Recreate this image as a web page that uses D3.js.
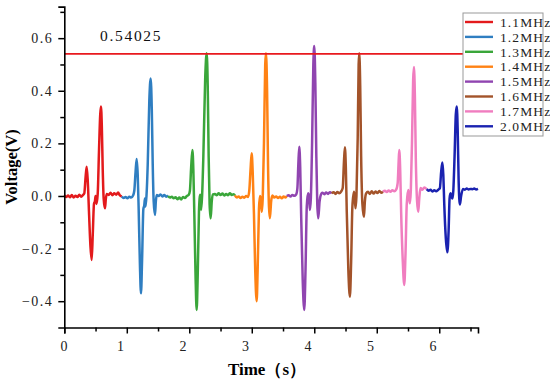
<!DOCTYPE html>
<html>
<head>
<meta charset="utf-8">
<script src="https://cdn.jsdelivr.net/npm/d3@7"></script>
<style>
  body { margin: 0; background: #fff; }
  text { font-family: "Liberation Serif", "Times New Roman", serif; }
</style>
</head>
<body>
<svg width="550" height="382"></svg>
<script>
// frequencies and colours, one trace each
let freqs = ["1.1MHz", "1.2MHz", "1.3MHz", "1.4MHz", "1.5MHz", "1.6MHz", "1.7MHz", "2.0MHz"];
let colors = ["#e31a1c", "#2f7ec1", "#3aa63a", "#ff8214", "#9045b0", "#a3532a", "#f07dbf", "#1a22b0"];

// [time (s), voltage (V)]
let red = [[0.00,0.003],[0.03,-0.004],[0.06,0.002],[0.09,-0.005],[0.12,0.004],[0.15,-0.006],[0.18,0.001],[0.21,-0.004],[0.24,0.005],[0.27,-0.003],[0.30,0.004],[0.32,0.01],[0.34,0.07],[0.358,0.111],[0.375,0.06],[0.395,-0.06],[0.418,-0.19],[0.438,-0.243],[0.455,-0.15],[0.475,-0.03],[0.49,-0.02],[0.50,0.0],[0.515,-0.03],[0.535,0.01],[0.555,0.17],[0.575,0.31],[0.587,0.34],[0.60,0.27],[0.615,0.1],[0.63,-0.01],[0.651,-0.047],[0.665,-0.01],[0.68,0.008],[0.71,0.004],[0.74,0.012],[0.77,0.003],[0.80,0.01],[0.83,0.005],[0.86,0.013],[0.89,0.002],[0.92,-0.002]];
let blue = [[0.92,-0.002],[0.95,-0.008],[0.98,-0.004],[1.01,-0.009],[1.04,-0.003],[1.07,-0.006],[1.10,0.002],[1.12,0.02],[1.14,0.09],[1.158,0.141],[1.175,0.08],[1.19,-0.05],[1.21,-0.26],[1.227,-0.37],[1.245,-0.24],[1.265,-0.05],[1.28,-0.035],[1.29,-0.01],[1.30,-0.04],[1.315,0.0],[1.335,0.12],[1.36,0.36],[1.382,0.447],[1.40,0.33],[1.415,0.12],[1.43,-0.02],[1.451,-0.072],[1.465,-0.02],[1.48,0.004],[1.51,0.0],[1.54,0.006],[1.57,-0.002],[1.60,0.004],[1.63,-0.003],[1.66,0.002]];
let green = [[1.66,0.0],[1.69,-0.006],[1.72,-0.003],[1.75,-0.009],[1.78,-0.005],[1.81,-0.012],[1.84,-0.006],[1.87,-0.013],[1.90,-0.004],[1.93,-0.008],[1.96,0.0],[1.99,0.004],[2.01,0.02],[2.03,0.11],[2.05,0.175],[2.065,0.1],[2.08,-0.06],[2.10,-0.3],[2.118,-0.433],[2.135,-0.3],[2.155,-0.06],[2.165,-0.01],[2.175,0.005],[2.19,-0.053],[2.205,0.0],[2.225,0.15],[2.255,0.45],[2.278,0.543],[2.295,0.42],[2.31,0.15],[2.325,-0.03],[2.342,-0.085],[2.36,-0.02],[2.38,0.006],[2.41,0.008],[2.44,0.003],[2.47,0.01],[2.50,0.004],[2.53,0.009],[2.56,0.002],[2.59,0.008],[2.62,0.003],[2.65,0.01],[2.68,0.004],[2.71,0.007],[2.73,0.002]];
let orange = [[2.73,0.002],[2.76,-0.006],[2.79,-0.002],[2.82,-0.008],[2.85,-0.003],[2.88,-0.007],[2.91,0.0],[2.94,-0.004],[2.96,0.02],[2.98,0.1],[2.998,0.162],[3.015,0.09],[3.035,-0.07],[3.055,-0.28],[3.078,-0.40],[3.095,-0.27],[3.115,-0.05],[3.13,0.0],[3.145,-0.01],[3.16,-0.06],[3.175,-0.01],[3.195,0.2],[3.215,0.5],[3.227,0.543],[3.245,0.4],[3.26,0.12],[3.275,-0.04],[3.29,-0.085],[3.31,-0.02],[3.33,0.002],[3.36,-0.006],[3.39,-0.002],[3.42,-0.008],[3.45,-0.003],[3.48,-0.009],[3.51,-0.002],[3.54,-0.006],[3.56,0.0]];
let purple = [[3.56,0.0],[3.59,0.003],[3.62,-0.002],[3.65,0.004],[3.68,0.001],[3.71,0.006],[3.73,0.03],[3.745,0.12],[3.76,0.187],[3.775,0.11],[3.79,-0.07],[3.815,-0.32],[3.84,-0.433],[3.86,-0.28],[3.88,-0.04],[3.90,0.01],[3.915,0.0],[3.93,-0.053],[3.945,-0.01],[3.965,0.2],[3.985,0.5],[4.0,0.57],[4.017,0.43],[4.033,0.15],[4.048,-0.03],[4.064,-0.085],[4.085,-0.02],[4.107,0.006],[4.13,0.012],[4.16,0.007],[4.19,0.013],[4.22,0.008],[4.25,0.014],[4.28,0.01]];
let brown = [[4.28,0.01],[4.31,0.014],[4.34,0.008],[4.37,0.015],[4.40,0.01],[4.43,0.017],[4.455,0.03],[4.475,0.13],[4.49,0.185],[4.505,0.11],[4.52,-0.06],[4.545,-0.28],[4.57,-0.383],[4.59,-0.25],[4.61,-0.04],[4.635,0.016],[4.645,0.0],[4.66,-0.047],[4.675,0.0],[4.695,0.22],[4.71,0.5],[4.72,0.543],[4.735,0.42],[4.75,0.15],[4.77,-0.03],[4.795,-0.079],[4.81,-0.02],[4.83,0.01],[4.86,0.016],[4.89,0.008],[4.92,0.018],[4.95,0.009],[4.98,0.017],[5.01,0.011],[5.04,0.019],[5.07,0.012],[5.10,0.016]];
let pink = [[5.10,0.016],[5.13,0.02],[5.16,0.015],[5.19,0.021],[5.22,0.016],[5.25,0.022],[5.28,0.018],[5.31,0.024],[5.335,0.05],[5.35,0.13],[5.36,0.175],[5.375,0.1],[5.39,-0.06],[5.415,-0.24],[5.44,-0.338],[5.46,-0.22],[5.48,-0.03],[5.504,0.023],[5.515,0.0],[5.53,-0.028],[5.545,0.02],[5.565,0.22],[5.582,0.44],[5.595,0.49],[5.61,0.38],[5.625,0.14],[5.645,-0.02],[5.664,-0.06],[5.68,-0.01],[5.70,0.03],[5.73,0.024],[5.76,0.032],[5.80,0.026]];
let navy = [[5.80,0.026],[5.83,0.02],[5.86,0.024],[5.89,0.017],[5.92,0.022],[5.95,0.018],[5.98,0.023],[6.01,0.03],[6.03,0.09],[6.05,0.127],[6.065,0.08],[6.08,-0.03],[6.105,-0.16],[6.13,-0.214],[6.15,-0.13],[6.165,-0.01],[6.18,0.01],[6.195,0.0],[6.21,-0.01],[6.225,0.02],[6.245,0.15],[6.265,0.31],[6.28,0.34],[6.295,0.25],[6.31,0.06],[6.33,-0.032],[6.35,0.0],[6.38,0.027],[6.41,0.024],[6.44,0.028],[6.47,0.025],[6.50,0.027],[6.53,0.026],[6.56,0.028],[6.59,0.025],[6.62,0.027]];

let threshold = 0.54025;
let xTicks = [0, 1, 2, 3, 4, 5, 6];
let yTicks = [-0.4, -0.2, 0, 0.2, 0.4, 0.6];

let series = [red, blue, green, orange, purple, brown, pink, navy];

let margin = ({top: 6.6, right: 72, bottom: 54.5, left: 64.3});
let width = 550, height = 382;

let x = d3.scaleLinear([0, 6.62], [margin.left, width - margin.right]);
let y = d3.scaleLinear([-0.5, 0.72], [height - margin.bottom, margin.top]);

let svg = d3.select("svg");

let line = d3.line()
    .x(d => x(d[0]))
    .y(d => y(d[1]))
    .curve(d3.curveMonotoneX);

// traces
svg.append("g")
    .attr("fill", "none")
    .attr("stroke-width", 2.5)
    .attr("stroke-linejoin", "round")
    .selectAll("path")
    .data(series)
    .join("path")
    .attr("stroke", (d, i) => colors[i])
    .attr("d", line);

// threshold line
svg.append("line")
    .attr("x1", x(0)).attr("x2", x(6.62))
    .attr("y1", y(threshold)).attr("y2", y(threshold))
    .attr("stroke", "#e8191e")
    .attr("stroke-width", 1.6);

svg.append("text")
    .attr("x", 100)
    .attr("y", y(threshold) - 13)
    .attr("font-size", 15.5)
    .attr("letter-spacing", 1.7)
    .attr("fill", "#111")
    .text(threshold.toString());

// axes
let fmt = d3.format(".1f");

let xAxis = svg.append("g")
    .attr("transform", `translate(0,${height - margin.bottom})`)
    .call(d3.axisBottom(x).tickValues(xTicks).tickFormat(d3.format("d")).tickSize(6).tickPadding(8));
xAxis.selectAll(".tick")
    .filter(d => d > 0)
    .select("text").attr("dx", -6);
xAxis.append("g")
    .selectAll("line")
    .data(d3.range(0.5, 6.6, 1))
    .join("line")
    .attr("x1", d => x(d) + 0.5).attr("x2", d => x(d) + 0.5)
    .attr("y1", 0).attr("y2", 4)
    .attr("stroke", "#000").attr("stroke-width", 1.5);

let yAxis = svg.append("g")
    .attr("transform", `translate(${margin.left},0)`)
    .call(d3.axisLeft(y).tickValues(yTicks).tickFormat(fmt).tickSize(6).tickPadding(5));
yAxis.append("g")
    .selectAll("line")
    .data([-0.3, -0.1, 0.1, 0.3, 0.5, 0.7])
    .join("line")
    .attr("y1", d => y(d) + 0.5).attr("y2", d => y(d) + 0.5)
    .attr("x1", 0).attr("x2", -4)
    .attr("stroke", "#000").attr("stroke-width", 1.5);

svg.selectAll(".domain").attr("stroke-width", 1.6).attr("stroke", "#000");
svg.selectAll(".tick line").attr("stroke-width", 1.5).attr("stroke", "#000");
svg.selectAll(".tick text")
    .attr("font-family", "'Liberation Serif', serif")
    .attr("font-size", 14)
    .attr("letter-spacing", 1.5)
    .attr("fill", "#222");

// axis titles
svg.append("text")
    .attr("transform", `translate(17,${(margin.top + height - margin.bottom) / 2}) rotate(-90)`)
    .attr("text-anchor", "middle")
    .attr("font-size", 16.5)
    .attr("font-weight", "bold")
    .text("Voltage(V)");

svg.append("text")
    .attr("x", 267)
    .attr("y", 375)
    .attr("text-anchor", "middle")
    .attr("font-size", 17)
    .attr("font-weight", "bold")
    .text("Time（s）");

// legend
let legend = svg.append("g").attr("transform", "translate(463,13)");
legend.append("rect")
    .attr("width", 80).attr("height", 123)
    .attr("fill", "#fff")
    .attr("stroke", "#999");
let row = legend.selectAll("g")
    .data(freqs)
    .join("g")
    .attr("transform", (d, i) => `translate(0,${9 + i * 14.9})`);
row.append("line")
    .attr("x1", 2).attr("x2", 30)
    .attr("stroke", (d, i) => colors[i])
    .attr("stroke-width", 2.4);
row.append("text")
    .attr("x", 37)
    .attr("dy", "0.35em")
    .attr("font-size", 13.5)
    .attr("letter-spacing", 1.1)
    .attr("fill", "#222")
    .text(d => d);
</script>
</body>
</html>
